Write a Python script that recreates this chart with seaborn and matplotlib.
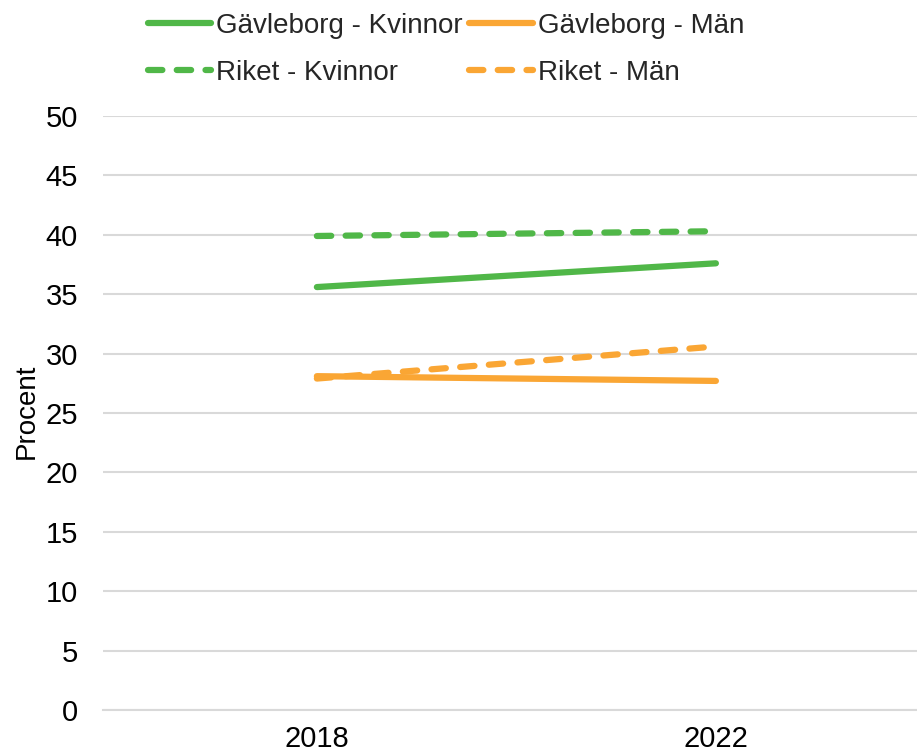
import matplotlib
matplotlib.use("Agg")
import matplotlib.pyplot as plt
import seaborn as sns
import pandas as pd

years = ["2018", "2022"]
gavle_kvinnor = [35.6, 37.6]
gavle_man = [28.1, 27.7]
riket_kvinnor = [39.9, 40.3]
riket_man = [27.9, 30.6]
yticks = [0, 5, 10, 15, 20, 25, 30, 35, 40, 45, 50]

GREEN = "#50B748"
ORANGE = "#FAA634"

sns.set_theme(style="white")
plt.rcParams['font.family'] = ['Liberation Sans', 'DejaVu Sans']

fig = plt.figure(figsize=(9.17, 7.56), dpi=100)
ax = fig.add_axes([103/917, 46/756, 1 - 103/917, (710-116)/756])

series = [
    ("Gävleborg - Kvinnor", gavle_kvinnor, GREEN, False),
    ("Riket - Kvinnor", riket_kvinnor, GREEN, True),
    ("Gävleborg - Män", gavle_man, ORANGE, False),
    ("Riket - Män", riket_man, ORANGE, True),
]

handles = []
for label, vals, color, dashed in series:
    df = pd.DataFrame({"År": years, "Procent": vals})
    sns.lineplot(data=df, x="År", y="Procent", ax=ax, color=color, linewidth=4.5,
                 label=label, legend=False)
    ln = ax.get_lines()[-1]
    ln.set_solid_capstyle("round")
    ln.set_dash_capstyle("round")
    if dashed:
        ln.set_dashes((2.3, 2.3))
    handles.append(ln)

ax.set_ylim(0, 50)
ax.set_yticks(yticks)
ax.set_xlim(-0.536, 1.504)
ax.grid(axis="y", color="#D9D9D9", linewidth=1.5)
ax.grid(axis="x", visible=False)
for s in ["top", "right", "left"]:
    ax.spines[s].set_visible(False)
ax.spines["bottom"].set_color("#D9D9D9")
ax.spines["bottom"].set_linewidth(1.5)
ax.tick_params(axis="both", length=0, labelsize=21, colors="black")
ax.tick_params(axis="y", pad=18)
ax.tick_params(axis="x", pad=11)
ax.set_xlabel("")
ax.set_ylabel("Procent", fontsize=20, color="black")
ax.yaxis.set_label_coords(-0.078, 0.503)

leg = fig.legend(handles=handles, labels=[h.get_label() for h in handles],
                 ncol=2, loc="upper center", bbox_to_anchor=(446/917, 1 - 13/756),
                 frameon=False, fontsize=20, handlelength=2.3, handletextpad=0.18,
                 columnspacing=0.22, labelspacing=0.75, borderpad=0.0, borderaxespad=0)

fig.savefig("out.png", dpi=100)
